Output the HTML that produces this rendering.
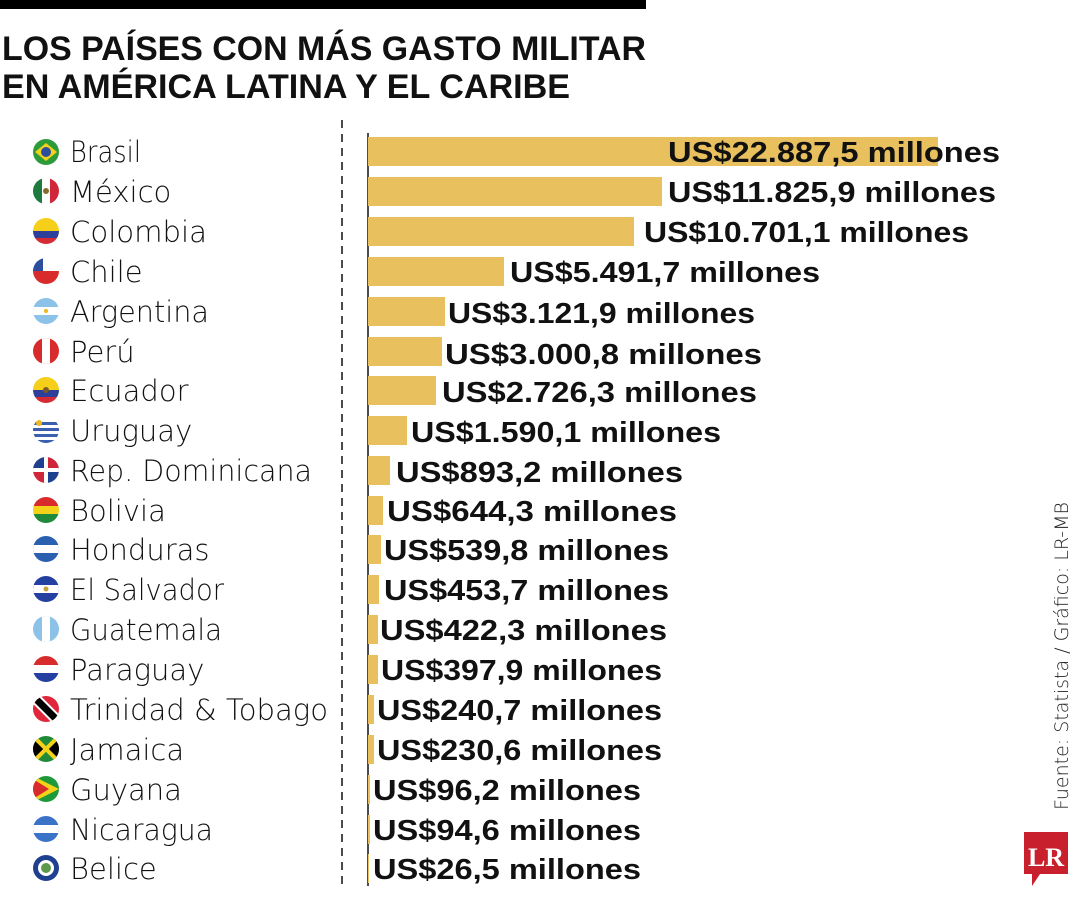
<!DOCTYPE html>
<html><head><meta charset="utf-8"><style>
html,body{margin:0;padding:0;background:#fff;}
svg{display:block}
.t{font-family:"Liberation Sans",sans-serif;font-weight:bold;font-size:34px;fill:#111}
.n{font-family:"DejaVu Sans","Liberation Sans",sans-serif;font-weight:200;font-size:29px;fill:#111}
.v{font-family:"Liberation Sans",sans-serif;font-weight:bold;font-size:29px;fill:#111}
</style></head><body>
<svg width="1080" height="900" viewBox="0 0 1080 900" xmlns="http://www.w3.org/2000/svg">
<defs><clipPath id="c"><circle cx="0" cy="0" r="13"/></clipPath></defs>
<rect x="0" y="0" width="646" height="9" fill="#000"/>
<text class="t" x="2" y="60" textLength="644" lengthAdjust="spacingAndGlyphs">LOS PAÍSES CON MÁS GASTO MILITAR</text>
<text class="t" x="2" y="98" textLength="568" lengthAdjust="spacingAndGlyphs">EN AMÉRICA LATINA Y EL CARIBE</text>
<line x1="342" y1="120" x2="342" y2="886" stroke="#111" stroke-width="1.5" stroke-dasharray="8,6"/>
<line x1="368" y1="133" x2="368" y2="886" stroke="#111" stroke-width="1.5"/>
<g fill="#e9c05e">
<rect x="368" y="137" width="570" height="29"/>
<rect x="368" y="177" width="294" height="29"/>
<rect x="368" y="217" width="266" height="29"/>
<rect x="368" y="257" width="136" height="29"/>
<rect x="368" y="297" width="77" height="29"/>
<rect x="368" y="337" width="74" height="29"/>
<rect x="368" y="376" width="68" height="29"/>
<rect x="368" y="416" width="39" height="29"/>
<rect x="368" y="456" width="22" height="29"/>
<rect x="368" y="496" width="15" height="29"/>
<rect x="368" y="535" width="13" height="29"/>
<rect x="368" y="575" width="11" height="29"/>
<rect x="368" y="615" width="10" height="29"/>
<rect x="368" y="655" width="10" height="29"/>
<rect x="368" y="695" width="6" height="29"/>
<rect x="368" y="735" width="6" height="29"/>
<rect x="368" y="775" width="2" height="29"/>
<rect x="368" y="815" width="2" height="29"/>
<rect x="368" y="854" width="1" height="29"/>
</g>
<g class="v">
<text x="668" y="162" textLength="332" lengthAdjust="spacingAndGlyphs">US$22.887,5 millones</text>
<text x="668" y="202" textLength="328" lengthAdjust="spacingAndGlyphs">US$11.825,9 millones</text>
<text x="644" y="242" textLength="325" lengthAdjust="spacingAndGlyphs">US$10.701,1 millones</text>
<text x="510" y="282" textLength="310" lengthAdjust="spacingAndGlyphs">US$5.491,7 millones</text>
<text x="448" y="323" textLength="307" lengthAdjust="spacingAndGlyphs">US$3.121,9 millones</text>
<text x="445" y="364" textLength="317" lengthAdjust="spacingAndGlyphs">US$3.000,8 millones</text>
<text x="442" y="402" textLength="315" lengthAdjust="spacingAndGlyphs">US$2.726,3 millones</text>
<text x="411" y="442" textLength="310" lengthAdjust="spacingAndGlyphs">US$1.590,1 millones</text>
<text x="396" y="482" textLength="287" lengthAdjust="spacingAndGlyphs">US$893,2 millones</text>
<text x="387" y="521" textLength="290" lengthAdjust="spacingAndGlyphs">US$644,3 millones</text>
<text x="384" y="560" textLength="285" lengthAdjust="spacingAndGlyphs">US$539,8 millones</text>
<text x="384" y="600" textLength="285" lengthAdjust="spacingAndGlyphs">US$453,7 millones</text>
<text x="380" y="640" textLength="287" lengthAdjust="spacingAndGlyphs">US$422,3 millones</text>
<text x="381" y="680" textLength="281" lengthAdjust="spacingAndGlyphs">US$397,9 millones</text>
<text x="377" y="720" textLength="285" lengthAdjust="spacingAndGlyphs">US$240,7 millones</text>
<text x="377" y="760" textLength="285" lengthAdjust="spacingAndGlyphs">US$230,6 millones</text>
<text x="373" y="800" textLength="268" lengthAdjust="spacingAndGlyphs">US$96,2 millones</text>
<text x="373" y="840" textLength="268" lengthAdjust="spacingAndGlyphs">US$94,6 millones</text>
<text x="373" y="879" textLength="268" lengthAdjust="spacingAndGlyphs">US$26,5 millones</text>
</g>
<g class="n">
<text x="70" y="162" textLength="71" lengthAdjust="spacingAndGlyphs">Brasil</text>
<text x="70" y="202">México</text>
<text x="70" y="242" textLength="137" lengthAdjust="spacingAndGlyphs">Colombia</text>
<text x="70" y="282">Chile</text>
<text x="70" y="322" textLength="139" lengthAdjust="spacingAndGlyphs">Argentina</text>
<text x="70" y="362">Perú</text>
<text x="70" y="401">Ecuador</text>
<text x="70" y="441">Uruguay</text>
<text x="70" y="481" textLength="242" lengthAdjust="spacingAndGlyphs">Rep. Dominicana</text>
<text x="70" y="521">Bolivia</text>
<text x="70" y="560">Honduras</text>
<text x="70" y="600" textLength="154" lengthAdjust="spacingAndGlyphs">El Salvador</text>
<text x="70" y="640" textLength="152" lengthAdjust="spacingAndGlyphs">Guatemala</text>
<text x="70" y="680">Paraguay</text>
<text x="70" y="720" textLength="258" lengthAdjust="spacingAndGlyphs">Trinidad &amp; Tobago</text>
<text x="70" y="760">Jamaica</text>
<text x="70" y="800">Guyana</text>
<text x="70" y="840" textLength="143" lengthAdjust="spacingAndGlyphs">Nicaragua</text>
<text x="70" y="879">Belice</text>
</g>
<!-- flags -->
<g transform="translate(46,152)" clip-path="url(#c)"><rect x="-13" y="-13" width="26" height="26" fill="#2e9b3a"/><polygon points="-11,0 0,-9 11,0 0,9" fill="#f2d21b"/><circle r="5" fill="#2b4f9e"/></g>
<g transform="translate(46,191)" clip-path="url(#c)"><rect x="-13" y="-13" width="9" height="26" fill="#1e7a3e"/><rect x="-4" y="-13" width="8" height="26" fill="#fff"/><rect x="4" y="-13" width="9" height="26" fill="#d0263a"/><circle r="3" fill="#8a6a2a"/></g>
<g transform="translate(46,231)" clip-path="url(#c)"><rect x="-13" y="-13" width="26" height="13" fill="#f5cf1a"/><rect x="-13" y="0" width="26" height="7" fill="#2d3f98"/><rect x="-13" y="7" width="26" height="6" fill="#d62a34"/></g>
<g transform="translate(46,271)" clip-path="url(#c)"><rect x="-13" y="-13" width="26" height="13" fill="#fff"/><rect x="-13" y="-13" width="10" height="13" fill="#2b4f9e"/><rect x="-13" y="0" width="26" height="13" fill="#d82c2c"/></g>
<g transform="translate(46,311)" clip-path="url(#c)"><rect x="-13" y="-13" width="26" height="26" fill="#8cc2e8"/><rect x="-13" y="-4" width="26" height="8" fill="#fff"/><circle r="2" fill="#f0b820"/></g>
<g transform="translate(46,351)" clip-path="url(#c)"><rect x="-13" y="-13" width="26" height="26" fill="#d82c2c"/><rect x="-4" y="-13" width="8" height="26" fill="#fff"/></g>
<g transform="translate(46,390)" clip-path="url(#c)"><rect x="-13" y="-13" width="26" height="13" fill="#f5cf1a"/><rect x="-13" y="0" width="26" height="7" fill="#2d3f98"/><rect x="-13" y="7" width="26" height="6" fill="#d62a34"/><circle r="3" fill="#7a5a2a"/></g>
<g transform="translate(46,430)" clip-path="url(#c)"><rect x="-13" y="-13" width="26" height="26" fill="#fff"/><g fill="#3a5fae"><rect x="-13" y="-8" width="26" height="3"/><rect x="-13" y="-2" width="26" height="3"/><rect x="-13" y="4" width="26" height="3"/><rect x="-13" y="10" width="26" height="3"/></g><circle cx="-7" cy="-7" r="3" fill="#f0b820"/></g>
<g transform="translate(46,470)" clip-path="url(#c)"><rect x="-13" y="-13" width="13" height="13" fill="#1f3f8f"/><rect x="0" y="-13" width="13" height="13" fill="#d0263a"/><rect x="-13" y="0" width="13" height="13" fill="#d0263a"/><rect x="0" y="0" width="13" height="13" fill="#1f3f8f"/><rect x="-2" y="-13" width="4" height="26" fill="#fff"/><rect x="-13" y="-2" width="26" height="4" fill="#fff"/></g>
<g transform="translate(46,510)" clip-path="url(#c)"><rect x="-13" y="-13" width="26" height="9" fill="#d82c2c"/><rect x="-13" y="-4" width="26" height="8" fill="#f5d21a"/><rect x="-13" y="4" width="26" height="9" fill="#1f8a3a"/></g>
<g transform="translate(46,549)" clip-path="url(#c)"><rect x="-13" y="-13" width="26" height="26" fill="#2b5fb0"/><rect x="-13" y="-4" width="26" height="8" fill="#fff"/></g>
<g transform="translate(46,589)" clip-path="url(#c)"><rect x="-13" y="-13" width="26" height="26" fill="#2440a0"/><rect x="-13" y="-4" width="26" height="8" fill="#fff"/><circle r="2.5" fill="#c9a13a"/></g>
<g transform="translate(46,629)" clip-path="url(#c)"><rect x="-13" y="-13" width="26" height="26" fill="#8cc2e8"/><rect x="-4" y="-13" width="8" height="26" fill="#fff"/></g>
<g transform="translate(46,669)" clip-path="url(#c)"><rect x="-13" y="-13" width="26" height="9" fill="#d82c2c"/><rect x="-13" y="-4" width="26" height="8" fill="#fff"/><rect x="-13" y="4" width="26" height="9" fill="#2440a0"/></g>
<g transform="translate(46,709)" clip-path="url(#c)"><rect x="-13" y="-13" width="26" height="26" fill="#e0263a"/><line x1="-13" y1="-13" x2="13" y2="13" stroke="#fff" stroke-width="11"/><line x1="-13" y1="-13" x2="13" y2="13" stroke="#000" stroke-width="7"/></g>
<g transform="translate(46,749)" clip-path="url(#c)"><rect x="-13" y="-13" width="26" height="26" fill="#1f8a3a"/><polygon points="-13,-13 0,0 -13,13" fill="#000"/><polygon points="13,-13 0,0 13,13" fill="#000"/><line x1="-13" y1="-13" x2="13" y2="13" stroke="#f5d21a" stroke-width="4"/><line x1="-13" y1="13" x2="13" y2="-13" stroke="#f5d21a" stroke-width="4"/></g>
<g transform="translate(46,789)" clip-path="url(#c)"><rect x="-13" y="-13" width="26" height="26" fill="#1f9a3a"/><polygon points="-13,-13 13,0 -13,13" fill="#f5d21a"/><polygon points="-13,-10 3,0 -13,10" fill="#d82c2c"/></g>
<g transform="translate(46,829)" clip-path="url(#c)"><rect x="-13" y="-13" width="26" height="26" fill="#3a72c8"/><rect x="-13" y="-4" width="26" height="8" fill="#fff"/></g>
<g transform="translate(46,868)" clip-path="url(#c)"><rect x="-13" y="-13" width="26" height="26" fill="#1f3f8f"/><circle r="8" fill="#fff"/><circle r="5" fill="#5a9a4a"/></g>
<text transform="translate(1068,810) rotate(-90)" font-family="'DejaVu Sans','Liberation Sans',sans-serif" font-weight="200" font-size="19" fill="#222" textLength="308" lengthAdjust="spacingAndGlyphs">Fuente: Statista / Gráfico: LR-MB</text>
<path d="M1024,832 h44 v42 h-28 l-8,12 v-12 h-8 z" fill="#c8202c"/>
<text x="1046" y="866" text-anchor="middle" font-family="'Liberation Serif',serif" font-weight="bold" font-size="26" fill="#fff">LR</text>
</svg>
</body></html>
